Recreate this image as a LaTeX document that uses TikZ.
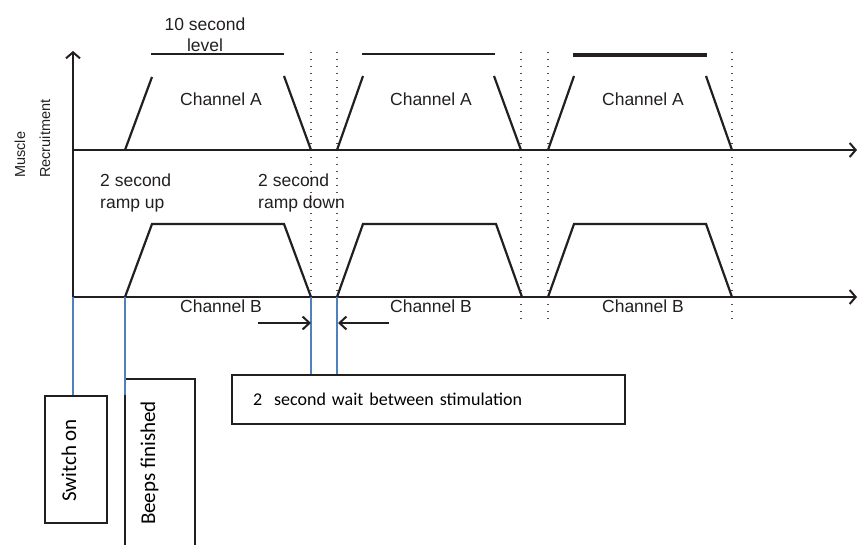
\documentclass[tikz,border=0pt]{standalone}
\usepackage{fontspec}
\setmainfont{Liberation Sans}
\newfontfamily\calib{Carlito}
\usetikzlibrary{arrows.meta}
\definecolor{ink}{HTML}{231F20}
\definecolor{conn}{HTML}{4F81BD}
\begin{document}
\begin{tikzpicture}[x=1pt,y=-1pt,
  axisline/.style={line width=2.2pt, draw=ink, -{Straight Barb[length=6pt,width=14pt,line width=2pt]}},
  ramp/.style={line width=2.2pt, draw=ink, line join=miter},
  levelline/.style={draw=ink},
  dotline/.style={draw=ink!80, line width=1.1pt, dash pattern=on 1.1pt off 5.9pt},
  conline/.style={draw=conn, line width=1.6pt},
  waitarrow/.style={line width=2pt, draw=ink, -{Straight Barb[length=7pt,width=13pt,line width=2pt]}},
  lbl/.style={font=\fontsize{17.5}{21.5}\selectfont, text=ink, inner sep=0pt},
  boxnode/.style={draw=ink, line width=1.8pt, fill=white, inner sep=0pt},
  boxtext/.style={font=\calib\fontsize{21}{24}\selectfont, text=black, inner sep=0pt}
]
\useasboundingbox (0,0) rectangle (858,545);
\clip (0,0) rectangle (858,545);

% key coordinates
\coordinate (o) at (73,297);
\coordinate (ytop) at (73,51);
\coordinate (aO) at (73,150);
\coordinate (aEnd) at (857,150);
\coordinate (bEnd) at (857,297);

% dotted guides
\foreach \x in {311,337,521,548,732}
  \draw[dotline] (\x,52) -- (\x,323);

% axes
\draw[axisline] (o) -- (ytop);
\draw[axisline] (aO) -- (aEnd);
\draw[axisline] (o) -- (bEnd);

% Channel A ramps and levels
\draw[ramp] (125,150) -- (152,77);
\draw[ramp] (284,76) -- (311,150);
\draw[ramp] (337,150) -- (363,76);
\draw[ramp] (494,76) -- (521,150);
\draw[ramp] (548,150) -- (574,76);
\draw[ramp] (706,76) -- (732,150);
\draw[levelline, line width=2.2pt] (151,54) -- (284,54);
\draw[levelline, line width=2.7pt] (362,54) -- (495,54);
\draw[levelline, line width=3.4pt] (573,55) -- (707,55);

% Channel B trapezoids
\coordinate (b1s) at (125,297);
\coordinate (b1e) at (311,297);
\coordinate (b2s) at (337,297);
\coordinate (b2e) at (522,297);
\coordinate (b3s) at (548,297);
\coordinate (b3e) at (732,297);
\draw[ramp] (b1s) -- (152,224) -- (284,224) -- (b1e);
\draw[ramp] (b2s) -- (363,224) -- (496,224) -- (b2e);
\draw[ramp] (b3s) -- (574,224) -- (706,224) -- (b3e);

% labels
\node[lbl, align=center, anchor=base] (lvl) at (205,52) {10 second\\level};
\node[lbl, anchor=base] (ca1) at (221,106) {Channel A};
\node[lbl, anchor=base] (ca2) at (431,106) {Channel A};
\node[lbl, anchor=base] (ca3) at (643,106) {Channel A};
\node[lbl, anchor=base] (cb1) at (221,312) {Channel B};
\node[lbl, anchor=base] (cb2) at (431,312) {Channel B};
\node[lbl, anchor=base] (cb3) at (643,312) {Channel B};
\node[lbl, align=left, anchor=base west] (rup) at (100,208.5) {2 second\\ramp up};
\node[lbl, align=left, anchor=base west] (rdown) at (258,208.5) {2 second\\ramp down};
\node[lbl, font=\fontsize{14.5}{25}\selectfont, rotate=90, align=left, anchor=base west] (ylab) at (50,178) {Muscle\\Recruitment};

% boxes
\node[boxnode, minimum width=62pt, minimum height=127pt] (sw) at (76,459.5) {};
\node[boxtext, rotate=90] (swt) at (69,460.5) {Switch on};
\node[boxnode, minimum width=70pt, minimum height=221pt] (bp) at (160,489.5) {};
\node[boxtext, rotate=90] (bpt) at (149.5,463) {Beeps finished};
\node[boxnode, minimum width=393pt, minimum height=49pt, text width=351pt, inner xsep=21pt, align=left,
      font=\calib\fontsize{18}{21}\selectfont] (wait) at (428.5,399.5) {2\ \ second wait between stimulation};

% connectors
\draw[conline] (o) -- (o |- sw.north);
\draw[conline] (b1s) -- (b1s |- sw.north);
\draw[conline] (b1e) -- (b1e |- wait.north);
\draw[conline] (b2s) -- (b2s |- wait.north);

% wait arrows
\coordinate (wl) at (258,323);
\coordinate (wr) at (389,323);
\draw[waitarrow] (wl) -- (b1e |- wl);
\draw[waitarrow] (wr) -- ([xshift=1pt]b2s |- wr);
\end{tikzpicture}
\end{document}
